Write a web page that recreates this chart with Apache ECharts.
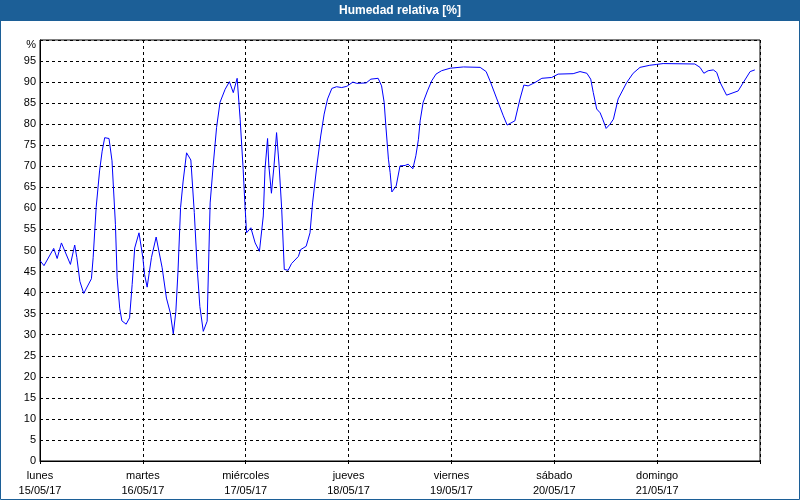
<!DOCTYPE html>
<html>
<head>
<meta charset="utf-8">
<script src="https://cdn.jsdelivr.net/npm/echarts@6/dist/echarts.min.js"></script>
<style>html,body{margin:0;padding:0;background:#fff;}#c{width:800px;height:500px;}</style>
</head>
<body>
<div id="c"></div>
<script>
// hours since Monday 15/05/17 00:00
const hours = [0,0.93,3.2,4.0,5.0,7.1,8.1,8.6,9.3,10.2,12.0,12.4,13.1,13.9,14.5,15.1,16.1,16.8,17.6,18.0,18.6,19.1,20.1,20.9,21.5,22.1,23.1,
24.0,24.4,25.0,26.0,27.1,28.5,29.5,30.4,31.1,31.7,32.2,32.8,33.4,34.2,35.2,36.0,36.7,37.3,38.1,39.0,39.7,40.4,41.2,42.0,43.2,44.2,45.1,46.0,46.7,47.4,47.8,
48.2,49.2,50.2,51.2,52.1,52.5,53.1,53.4,54.0,54.6,55.2,55.8,56.4,57.0,57.9,58.7,60.3,60.8,62.1,63.0,63.6,64.6,65.5,66.3,67.1,68.1,69.2,70.4,71.6,
73.0,73.9,76.1,77.2,78.9,79.7,80.3,80.7,81.3,81.7,82.1,83.1,84.0,85.2,85.9,87.0,87.7,88.3,88.7,89.4,90.4,91.4,92.4,93.7,95.7,98.8,
102.7,104.1,105.0,106.6,108.1,109.0,110.8,112.0,112.9,113.9,115.5,117.1,119.4,
120.9,124.4,126.0,127.6,128.5,129.1,129.9,130.7,131.3,132.1,133.0,133.8,134.9,136.9,138.4,140.0,142.3,
143.9,145.4,152.8,154.0,154.9,155.9,157.1,157.9,158.7,160.2,162.9,164.1,165.7,166.8];
const humidity = [47.6,46.4,50.5,48.1,51.8,46.7,51.3,48.3,42.7,39.8,43.3,48.3,60.2,68.9,73.6,76.8,76.6,71.3,56.2,43.5,36.3,33.3,32.5,34,41.9,50.6,54.2,
48.3,44.3,41.3,48.3,53.2,45.9,38.7,35.2,30.2,35.5,45.1,60.2,66.5,73.2,71.5,59,45.5,36.7,30.8,33.2,61.3,70.1,79.2,85.2,88.3,90.1,87.5,90.9,81.2,69.3,61.3,
54.2,55.4,51.8,49.8,58.2,69.3,76.6,70.1,63.6,70.1,78,70.1,59.8,45.5,45.3,46.9,48.6,50.2,51,54.2,61.3,70.1,77.2,82.4,86,88.5,88.9,88.7,89,
90,89.7,89.8,90.7,90.9,89.1,85.2,79.6,71.7,68.5,63.9,65.3,70.1,70.2,70.5,69.4,72.5,76.4,80.8,85.2,87.9,90.3,91.9,92.7,93.3,93.6,
93.5,92.5,90.3,86,82,79.8,80.8,86,89.3,89.1,89.9,90.9,91.1,
91.9,92,92.5,92.1,90.7,87.5,83.6,82.7,81.2,79,80,81.2,86,89.9,92.1,93.5,94,
94.2,94.4,94.3,93.5,92.1,92.7,92.9,92.3,89.9,86.9,87.9,89.9,92.5,92.9];
const dayNames = ['lunes','martes','miércoles','jueves','viernes','sábado','domingo'];
const dayDates = ['15/05/17','16/05/17','17/05/17','18/05/17','19/05/17','20/05/17','21/05/17'];
const titleText = 'Humedad relativa [%]';

const data = hours.map((h,i)=>[h, humidity[i]]);
const FONT = 'Liberation Sans';
const chart = echarts.init(document.getElementById('c'), null, {renderer:'canvas'});
chart.setOption({
  animation:false,
  backgroundColor:'#ffffff',
  graphic:[
    {type:'rect', shape:{x:0,y:0,width:800,height:21}, style:{fill:'#1c5f97'}, z:0},
    {type:'rect', shape:{x:0.5,y:0.5,width:799,height:499}, style:{fill:null, stroke:'#1c5f97', lineWidth:1}, z:0},
    {type:'text', x:400, y:11, style:{text:titleText, fill:'#ffffff', font:'bold 12px "Liberation Sans"', align:'center', verticalAlign:'middle'}, z:1}
  ],
  grid:{left:40, right:40, top:40, bottom:39, show:true, borderColor:'#000', borderWidth:1, backgroundColor:'transparent'},
  xAxis:{
    type:'value', min:0, max:168, interval:24,
    axisLine:{show:true, lineStyle:{color:'#000', width:1}},
    axisTick:{show:true, length:3, lineStyle:{color:'#000'}},
    splitLine:{show:true, lineStyle:{color:'#000', type:[3,3], width:1}},
    axisLabel:{
      color:'#000', fontFamily:FONT, fontSize:11, lineHeight:15, margin:7,
      formatter:function(v){ const i=Math.round(v/24); return i<7 ? dayNames[i]+'\n'+dayDates[i] : ''; }
    }
  },
  yAxis:{
    type:'value', min:0, max:100, interval:5,
    axisLine:{show:true, lineStyle:{color:'#000', width:1}},
    axisTick:{show:false},
    splitLine:{show:true, lineStyle:{color:'#000', type:[3,3], width:1}},
    axisLabel:{
      color:'#000', fontFamily:FONT, fontSize:11, margin:4,
      formatter:function(v){ return v===100 ? '{p|%}' : String(v); },
      rich:{p:{fontFamily:FONT, fontSize:11, color:'#000', padding:[10,0,0,0]}}
    }
  },
  series:[{
    type:'line', data:data, showSymbol:false, symbol:'none',
    lineStyle:{color:'#0000ff', width:1}, silent:true
  }]
});
</script>
</body>
</html>
